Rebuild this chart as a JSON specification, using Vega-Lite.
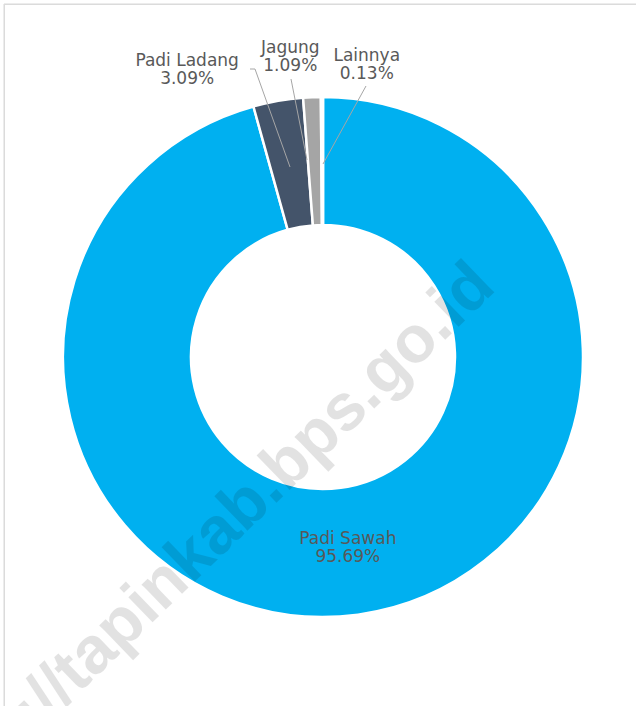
{
  "$schema": "https://vega.github.io/schema/vega-lite/v6.json",
  "autosize": {"type": "none"},
  "width": 632,
  "height": 702,
  "padding": {"left": 4, "top": 4, "right": 0, "bottom": 0},
  "background": "white",
  "data": {"values": [
    {"category": "Padi Sawah", "value": 95.69},
    {"category": "Padi Ladang", "value": 3.09},
    {"category": "Jagung", "value": 1.09},
    {"category": "Lainnya", "value": 0.13}
  ]},
  "transform": [
    {"calculate": "datum.category + '|' + format(datum.value, '.2f') + '%'", "as": "label"},
    {"calculate": "datum.category == 'Padi Sawah' ? '' : datum.label", "as": "outerLabel"}
  ],
  "encoding": {
    "theta": {"field": "value", "type": "quantitative", "stack": true},
    "order": {"field": "value", "type": "quantitative", "sort": "descending"}
  },
  "layer": [
    {
      "data": {"values": [{"frame": 1}]},
      "transform": [],
      "mark": {"type": "rect", "x": 0, "y": 0, "x2": 650, "y2": 720, "fill": "white", "fillOpacity": 0, "stroke": "#d9d9d9", "strokeWidth": 1},
      "encoding": {"theta": null, "order": null}
    },
    {
      "mark": {"type": "arc", "x": 319, "y": 353, "innerRadius": 132, "outerRadius": 260, "stroke": "white", "strokeWidth": 2.5},
      "encoding": {
        "color": {"field": "category", "type": "nominal", "legend": null,
          "scale": {"domain": ["Padi Sawah", "Padi Ladang", "Jagung", "Lainnya"], "range": ["#00B0F0", "#44546A", "#A5A5A5", "#FFFFFF"]}}
      }
    },
    {
      "data": {"values": [{"leader": "Padi Ladang"}]},
      "transform": [],
      "mark": {"type": "rule", "stroke": "#a6a6a6", "strokeWidth": 1},
      "encoding": {"theta": null, "order": null, "x": {"value": 246}, "y": {"value": 65}, "x2": {"value": 251}, "y2": {"value": 65}}
    },
    {
      "data": {"values": [{"leader": "Padi Ladang"}]},
      "transform": [],
      "mark": {"type": "rule", "stroke": "#a6a6a6", "strokeWidth": 1},
      "encoding": {"theta": null, "order": null, "x": {"value": 251}, "y": {"value": 65}, "x2": {"value": 286}, "y2": {"value": 163}}
    },
    {
      "data": {"values": [{"leader": "Jagung"}]},
      "transform": [],
      "mark": {"type": "rule", "stroke": "#a6a6a6", "strokeWidth": 1},
      "encoding": {"theta": null, "order": null, "x": {"value": 287}, "y": {"value": 75}, "x2": {"value": 303}, "y2": {"value": 156}}
    },
    {
      "data": {"values": [{"leader": "Lainnya"}]},
      "transform": [],
      "mark": {"type": "rule", "stroke": "#a6a6a6", "strokeWidth": 1},
      "encoding": {"theta": null, "order": null, "x": {"value": 362}, "y": {"value": 82}, "x2": {"value": 319}, "y2": {"value": 160}}
    },
    {
      "transform": [{"filter": "datum.category == 'Padi Sawah'"}],
      "mark": {"type": "text", "x": 319, "y": 353, "radius": 184, "font": "DejaVu Sans", "fontSize": 17, "fill": "#595959", "lineBreak": "|", "lineHeight": 18, "align": "center", "baseline": "middle"},
      "encoding": {"text": {"field": "label", "type": "nominal"}}
    },
    {
      "mark": {"type": "text", "x": 319, "y": 353, "radius": 300,
        "dx": {"expr": "datum.category == 'Padi Ladang' ? -84 : datum.category == 'Jagung' ? -20 : 45"},
        "dy": {"expr": "datum.category == 'Jagung' ? -9 : -1"},
        "font": "DejaVu Sans", "fontSize": 17, "fill": "#595959", "lineBreak": "|", "lineHeight": 18, "align": "center", "baseline": "middle"},
      "encoding": {"text": {"field": "outerLabel", "type": "nominal"}}
    },
    {
      "data": {"values": [{"wm": "http://tapinkab.bps.go.id"}]},
      "transform": [],
      "mark": {"type": "text", "x": 204, "y": 537, "angle": -44, "font": "Liberation Sans", "fontWeight": "bold", "fontSize": 66, "fill": "#000000", "opacity": 0.11, "align": "center", "baseline": "middle"},
      "encoding": {"text": {"field": "wm", "type": "nominal"}, "theta": null, "order": null}
    }
  ]
}
